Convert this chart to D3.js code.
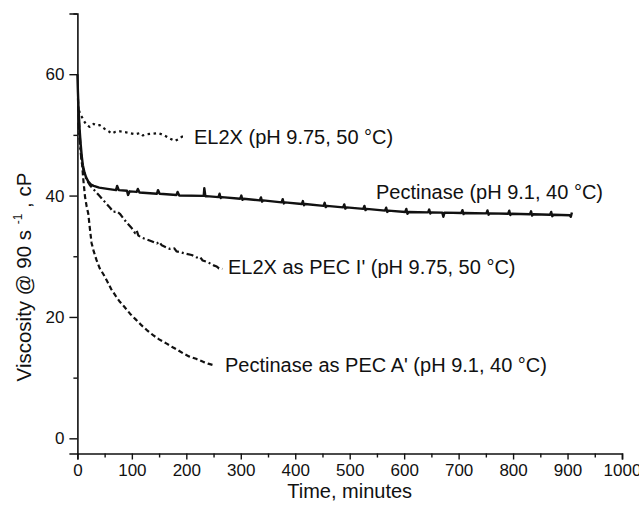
<!DOCTYPE html>
<html>
<head>
<meta charset="utf-8">
<script src="https://cdn.jsdelivr.net/npm/d3@7/dist/d3.min.js"></script>
<style>
  html, body { margin: 0; padding: 0; background: #fff; }
  svg { display: block; font-family: "Liberation Sans", Arial, sans-serif; }
</style>
</head>
<body>
<svg id="chart" width="639" height="515"></svg>
<script>
// Viscosity (cP @ 90 s^-1) versus time (minutes)
const pectinase = [
  [0,60],[1,57],[2,54.5],[4,51],[6,48.5],[8,46.5],[10,45],[13,43.8],[16,43],[20,42.3],[25,41.8],[30,41.6],
  [40,41.3],[55,41.1],[71,40.9],[73,41.6],[76,40.9],[91,40.8],[93,40.1],[96,40.7],[109,40.6],[111,41.1],[114,40.5],
  [146,40.3],[148,40.9],[151,40.3],[182,40.1],[184,40.6],[187,40.0],[232,39.95],[233,41.2],[235,39.9],[237,39.9],
  [259,39.75],[261,40.3],[263,39.6],[265,39.75],[299,39.48],[301,40.0],[303,39.3],[305,39.48],
  [335,39.2],[337,39.7],[339,39.0],[341,39.2],[375,38.88],[377,39.4],[379,38.7],[381,38.88],
  [412,38.6],[414,39.1],[416,38.4],[418,38.6],[452,38.3],[454,38.8],[456,38.1],[458,38.3],
  [488,38.06],[490,38.55],[492,37.85],[494,38.06],[525,37.8],[527,38.3],[529,37.6],[531,37.8],
  [565,37.52],[567,38.0],[569,37.3],[571,37.52],[602,37.29],[604,37.8],[606,37.0],[608,37.29],
  [644,37.23],[646,37.7],[648,37.05],[650,37.23],[670,37.19],[672,36.5],[674,37.19],
  [705,37.14],[707,37.6],[709,36.95],[711,37.14],[751,37.07],[753,37.55],[755,36.85],[757,37.07],
  [791,37.01],[793,37.5],[795,36.8],[797,37.01],[831,36.92],[833,37.4],[835,36.7],[837,36.92],
  [868,36.84],[870,37.3],[872,36.6],[874,36.84],[904,36.75],[906,36.5],[908,37.2]
];
const el2x = [
  [3,54],[6,53.2],[8,53.0],[12,52.3],[17,51.6],[23,51.3],[30,51.8],[36,51.6],[41,51.6],[50,51.0],
  [57,50.6],[63,50.2],[70,50.5],[78,50.6],[90,50.4],[106,50.1],[115,50.3],[120,49.9],[127,50.1],
  [138,50.2],[149,50.3],[160,49.9],[170,49.4],[179,49.0],[186,49.3],[192,49.7],[197,49.7]
];
const el2xPec = [
  [2,52],[5,48],[8,45.5],[12,43.8],[17,42.6],[23,41.7],[30,41.0],[40,40.0],[50,39.0],[60,38.0],
  [66,37.3],[72,37.4],[78,37.0],[90,35.6],[100,34.6],[106,33.8],[109,34.2],[112,33.4],[120,33.0],
  [135,32.5],[146,32.1],[150,32.4],[155,31.8],[170,31.2],[178,31.3],[182,30.8],[188,30.7],[200,30.4],
  [210,30.2],[219,29.8],[225,29.9],[230,29.3],[240,29.0],[250,28.5],[256,28.3],[260,28.0],[266,27.9]
];
const pectinasePec = [
  [1,56],[3,52],[5,49],[8,45.8],[11,42.5],[14,39.8],[17,38.2],[20,37.0],[23,34.5],[26,32.2],[30,30.8],
  [35,29.4],[41,28.0],[48,27.0],[54,26.0],[62,24.6],[70,23.5],[78,22.5],[85,21.8],[97,20.5],[107,19.6],
  [118,18.6],[128,17.8],[139,17.0],[150,16.3],[164,15.6],[175,15.0],[185,14.5],[194,14.0],[205,13.5],
  [218,13.1],[231,12.6],[240,12.3],[248,12.1]
];

const xMajor = [0,100,200,300,400,500,600,700,800,900,1000];
const xMinor = [50,150,250,350,450,550,650,750,850,950];
const yMajor = [0,20,40,60];
const yMinor = [10,30,50,70];

const series = [
  { name: "Pectinase (pH 9.1, 40 \u00B0C)", data: pectinase, dash: null, lx: 376, ly: 192 },
  { name: "EL2X (pH 9.75, 50 \u00B0C)", data: el2x, dash: "2.5,3.5", lx: 194, ly: 137 },
  { name: "EL2X as PEC I' (pH 9.75, 50 \u00B0C)", data: el2xPec, dash: "7,3,2,3", lx: 228, ly: 267 },
  { name: "Pectinase as PEC A' (pH 9.1, 40 \u00B0C)", data: pectinasePec, dash: "5,3", lx: 225, ly: 365 }
];

const svg = d3.select("#chart");
const x = d3.scaleLinear().domain([0, 1000]).range([77.4, 622]);
const y = d3.scaleLinear().domain([-2.5, 70]).range([453.5, 13.5]);

// axes: labelled major ticks and shorter minor ticks
const gx = svg.append("g").attr("transform", `translate(0,${y(-2.5)})`);
gx.call(d3.axisBottom(x).tickValues(xMajor).tickSize(6).tickPadding(4).tickFormat(d3.format("d")));
const gxm = svg.append("g").attr("transform", `translate(0,${y(-2.5)})`);
gxm.call(d3.axisBottom(x).tickValues(xMinor).tickSize(4).tickFormat(""));

const gy = svg.append("g").attr("transform", `translate(${x(0)},0)`);
gy.call(d3.axisLeft(y).tickValues(yMajor).tickSize(8).tickPadding(5).tickFormat(d3.format("d")));
const gym = svg.append("g").attr("transform", `translate(${x(0)},0)`);
gym.call(d3.axisLeft(y).tickValues(yMinor).tickSize(4).tickFormat(""));

svg.selectAll(".domain").attr("stroke", "#111").attr("stroke-width", 1.6);
svg.selectAll(".tick line").attr("stroke", "#111").attr("stroke-width", 1.4);
svg.selectAll(".tick text").attr("font-size", 17).attr("fill", "#111")
  .attr("font-family", "Liberation Sans, Arial, sans-serif");
gxm.select(".domain").remove();
gym.select(".domain").remove();

// series lines with their labels
const line = d3.line().x(d => x(d[0])).y(d => y(d[1]));
series.forEach(s => {
  svg.append("path")
    .datum(s.data)
    .attr("d", line)
    .attr("fill", "none")
    .attr("stroke", "#111")
    .attr("stroke-width", s.dash ? 2.2 : 2.4)
    .attr("stroke-linejoin", "round")
    .attr("stroke-dasharray", s.dash);
  svg.append("text")
    .attr("x", s.lx).attr("y", s.ly)
    .attr("dy", "0.35em")
    .attr("font-size", 20)
    .attr("fill", "#111")
    .text(s.name);
});

// axis titles
svg.append("text")
  .attr("x", (x(0) + x(1000)) / 2).attr("y", 491)
  .attr("dy", "0.35em")
  .attr("text-anchor", "middle")
  .attr("font-size", 20)
  .attr("fill", "#111")
  .text("Time, minutes");

const yt = svg.append("text")
  .attr("transform", "translate(24,277) rotate(-90)")
  .attr("text-anchor", "middle")
  .attr("dy", "0.35em")
  .attr("font-size", 20.5)
  .attr("fill", "#111");
yt.append("tspan").text("Viscosity @ 90 s ");
yt.append("tspan").attr("font-size", 12).attr("dy", "-0.75em").text("-1");
yt.append("tspan").attr("dy", "0.45em").text(" , cP");
</script>
</body>
</html>
